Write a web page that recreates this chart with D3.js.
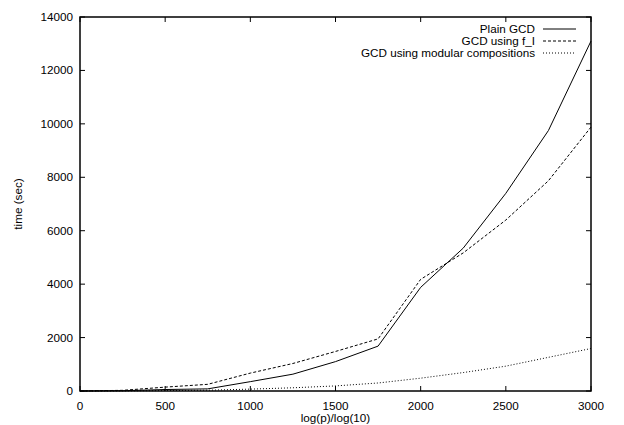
<!DOCTYPE html>
<html>
<head>
<meta charset="utf-8">
<script src="https://cdn.jsdelivr.net/npm/d3@7"></script>
<style>
  body { margin: 0; background: #fff; }
  svg { display: block; font-family: "Liberation Sans", Arial, sans-serif; }
</style>
</head>
<body>
<div id="chart"></div>
<script>
// x values (log(p)/log(10))
const digits = [0, 250, 500, 750, 1000, 1250, 1500, 1750, 2000, 2250, 2500, 2750, 3000];
// time in seconds
const plainGcd = [0, 10, 55, 80, 350, 630, 1100, 1680, 3880, 5350, 7400, 9750, 13100];
const gcdFI = [0, 25, 145, 250, 670, 1030, 1480, 1950, 4180, 5170, 6400, 7870, 9880];
const gcdModular = [0, 5, 15, 30, 70, 120, 190, 300, 480, 690, 930, 1260, 1590];

const seriesNames = ["Plain GCD", "GCD using f_I", "GCD using modular compositions"];
const xTicks = [0, 500, 1000, 1500, 2000, 2500, 3000];
const yTicks = [0, 2000, 4000, 6000, 8000, 10000, 12000, 14000];

const width = 624, height = 425;
const margin = { top: 17, right: 33, bottom: 34, left: 80 };
const fontSize = 11.7;

const x = d3.scaleLinear().domain([0, 3000]).range([margin.left, width - margin.right]);
const y = d3.scaleLinear().domain([0, 14000]).range([height - margin.bottom, margin.top]);

const svg = d3.select("#chart").append("svg")
    .attr("width", width)
    .attr("height", height);

const dashes = [null, "3,2", "1,2"];
const series = [plainGcd, gcdFI, gcdModular];

// ticks (inward on all four sides)
const tickLen = 5;
const ticks = svg.append("g").attr("stroke", "#000").attr("stroke-width", 1);
ticks.selectAll("line.xb").data(xTicks).join("line")
    .attr("x1", d => x(d)).attr("x2", d => x(d))
    .attr("y1", y(0)).attr("y2", y(0) - tickLen);
ticks.selectAll("line.xt").data(xTicks).join("line")
    .attr("x1", d => x(d)).attr("x2", d => x(d))
    .attr("y1", y(14000)).attr("y2", y(14000) + tickLen);
ticks.selectAll("line.yl").data(yTicks).join("line")
    .attr("x1", x(0)).attr("x2", x(0) + tickLen)
    .attr("y1", d => y(d)).attr("y2", d => y(d));
ticks.selectAll("line.yr").data(yTicks).join("line")
    .attr("x1", x(3000)).attr("x2", x(3000) - tickLen)
    .attr("y1", d => y(d)).attr("y2", d => y(d));

// tick labels
svg.append("g").selectAll("text").data(xTicks).join("text")
    .attr("x", d => x(d))
    .attr("y", y(0) + 19)
    .attr("text-anchor", "middle")
    .attr("font-size", fontSize)
    .text(d => d);
svg.append("g").selectAll("text").data(yTicks).join("text")
    .attr("x", x(0) - 7)
    .attr("y", d => y(d) + 4)
    .attr("text-anchor", "end")
    .attr("font-size", fontSize)
    .text(d => d);

// axis titles
svg.append("text")
    .attr("x", x(1500))
    .attr("y", height - 3)
    .attr("text-anchor", "middle")
    .attr("font-size", fontSize)
    .text("log(p)/log(10)");
svg.append("text")
    .attr("transform", `translate(22,${y(7000)}) rotate(-90)`)
    .attr("text-anchor", "middle")
    .attr("font-size", fontSize)
    .text("time (sec)");

// lines
const line = d3.line().x((d, i) => x(digits[i])).y(d => y(d));
series.forEach((s, i) => {
    svg.append("path")
        .datum(s)
        .attr("d", line)
        .attr("fill", "none")
        .attr("stroke", "#000")
        .attr("stroke-width", 1)
        .attr("stroke-dasharray", dashes[i]);
});

// frame
svg.append("rect")
    .attr("x", x(0)).attr("y", y(14000))
    .attr("width", x(3000) - x(0))
    .attr("height", y(0) - y(14000))
    .attr("fill", "none")
    .attr("stroke", "#000")
    .attr("stroke-width", 1.5);

// legend
const legend = svg.append("g");
seriesNames.forEach((name, i) => {
    const ly = 29 + i * 12;
    legend.append("text")
        .attr("x", 535)
        .attr("y", ly + 4)
        .attr("text-anchor", "end")
        .attr("font-size", fontSize)
        .text(name);
    legend.append("line")
        .attr("x1", 543).attr("x2", 576)
        .attr("y1", ly).attr("y2", ly)
        .attr("stroke", "#000")
        .attr("stroke-width", 1)
        .attr("stroke-dasharray", dashes[i]);
});
</script>
</body>
</html>
